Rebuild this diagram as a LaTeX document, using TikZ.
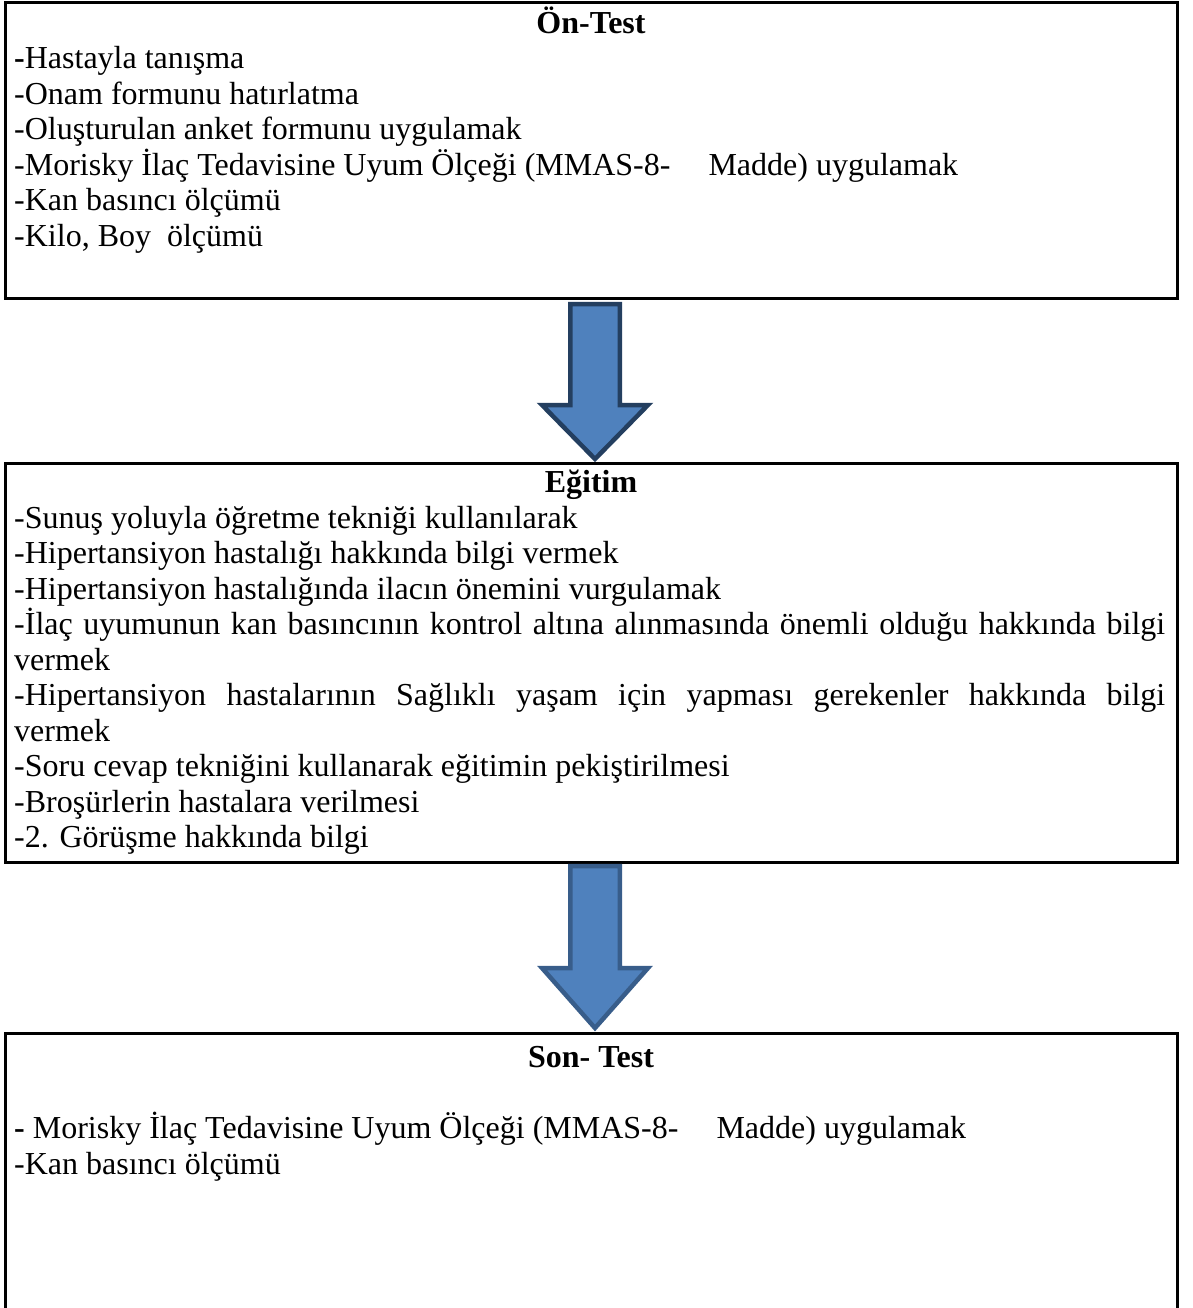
\documentclass[tikz,border=0pt]{standalone}
\usepackage{fontspec}
\setmainfont{Liberation Serif}
\usetikzlibrary{calc}
\definecolor{arrowfill}{HTML}{4F81BD}
\definecolor{arrowlineA}{HTML}{243F60}
\definecolor{arrowlineB}{HTML}{385D8A}
\tikzset{
  box/.style={draw=black, line width=3pt, rectangle, inner sep=0pt, outer sep=0pt, anchor=north west, minimum width=1172pt},
  txt/.style={anchor=base west, inner sep=0pt, font=\fontsize{32}{35.5}\selectfont},
  ttl/.style={anchor=base, inner sep=0pt, font=\fontsize{32}{35.5}\selectfont\bfseries},
  bigarrow/.style={fill=arrowfill, line width=4.5pt, line join=miter},
}
\begin{document}
\begin{tikzpicture}[x=1pt,y=1pt]
\useasboundingbox (0,0) rectangle (1192,-1308);
\clip (0,0) rectangle (1192,-1308);
\fill[white] (0,0) rectangle (1192,-1308);

% boxes
\node[box, minimum height=295pt] (b1) at (5,-3) {};
\node[box, minimum height=399pt] (b2) at (5,-463) {};
\node[box, minimum height=297pt] (b3) at (5,-1033) {};

% arrows
\draw[bigarrow, draw=arrowlineA]
  ($(b1.south)+(4-24.75,-6)$) -- ($(b1.south)+(4+24.75,-6)$) --
  ($(b1.south)+(4+24.75,-107)$) -- ($(b1.south)+(4+53,-107)$) --
  ($(b2.north)+(4,4)$) --
  ($(b1.south)+(4-53,-107)$) -- ($(b1.south)+(4-24.75,-107)$) -- cycle;
\draw[bigarrow, draw=arrowlineB]
  ($(b2.south)+(4-24.75,-4)$) -- ($(b2.south)+(4+24.75,-4)$) --
  ($(b2.south)+(4+24.75,-106)$) -- ($(b2.south)+(4+53,-106)$) --
  ($(b3.north)+(4,5)$) --
  ($(b2.south)+(4-53,-106)$) -- ($(b2.south)+(4-24.75,-106)$) -- cycle;

% box 1 text
\node[ttl] (t1) at (591,-33.5) {Ön-Test};
\node[txt] (l1a) at (14,-69) {{\bfseries -}Hastayla tanışma};
\node[txt] (l1b) at (14,-104.5) {-Onam formunu hatırlatma};
\node[txt] (l1c) at (14,-140) {-Oluşturulan anket formunu uygulamak};
\node[txt] (l1d) at (14,-175.5) {-Morisky İlaç Tedavisine Uyum Ölçeği (MMAS-8-\hspace*{30pt} Madde) uygulamak};
\node[txt] (l1e) at (14,-211) {-Kan basıncı ölçümü};
\node[txt] (l1f) at (14,-246.5) {-Kilo, Boy\ \ ölçümü};

% box 2 text
\node[ttl] (t2) at (591,-492) {Eğitim};
\node[txt] (l2a) at (14,-528) {-Sunuş yoluyla öğretme tekniği kullanılarak};
\node[txt] (l2b) at (14,-563.5) {-Hipertansiyon hastalığı hakkında bilgi vermek};
\node[txt] (l2c) at (14,-599) {-Hipertansiyon hastalığında ilacın önemini vurgulamak};
\node[txt] (l2d) at (14,-634.5) {\makebox[1151pt][s]{-İlaç uyumunun kan basıncının kontrol altına alınmasında önemli olduğu hakkında bilgi}};
\node[txt] (l2e) at (14,-670) {vermek};
\node[txt] (l2f) at (14,-705.5) {\makebox[1151pt][s]{-Hipertansiyon hastalarının Sağlıklı yaşam için yapması gerekenler hakkında bilgi}};
\node[txt] (l2g) at (14,-741) {vermek};
\node[txt] (l2h) at (14,-776.5) {-Soru cevap tekniğini kullanarak eğitimin pekiştirilmesi};
\node[txt] (l2i) at (14,-812) {-Broşürlerin hastalara verilmesi};
\node[txt] (l2j) at (14,-847.5) {-2. Görüşme hakkında bilgi};

% box 3 text
\node[ttl] (t3) at (591,-1067) {Son- Test};
\node[txt] (l3a) at (14,-1138.5) {{\bfseries -} Morisky İlaç Tedavisine Uyum Ölçeği (MMAS-8-\hspace*{30pt} Madde) uygulamak};
\node[txt] (l3b) at (14,-1174) {-Kan basıncı ölçümü};
\end{tikzpicture}
\end{document}
